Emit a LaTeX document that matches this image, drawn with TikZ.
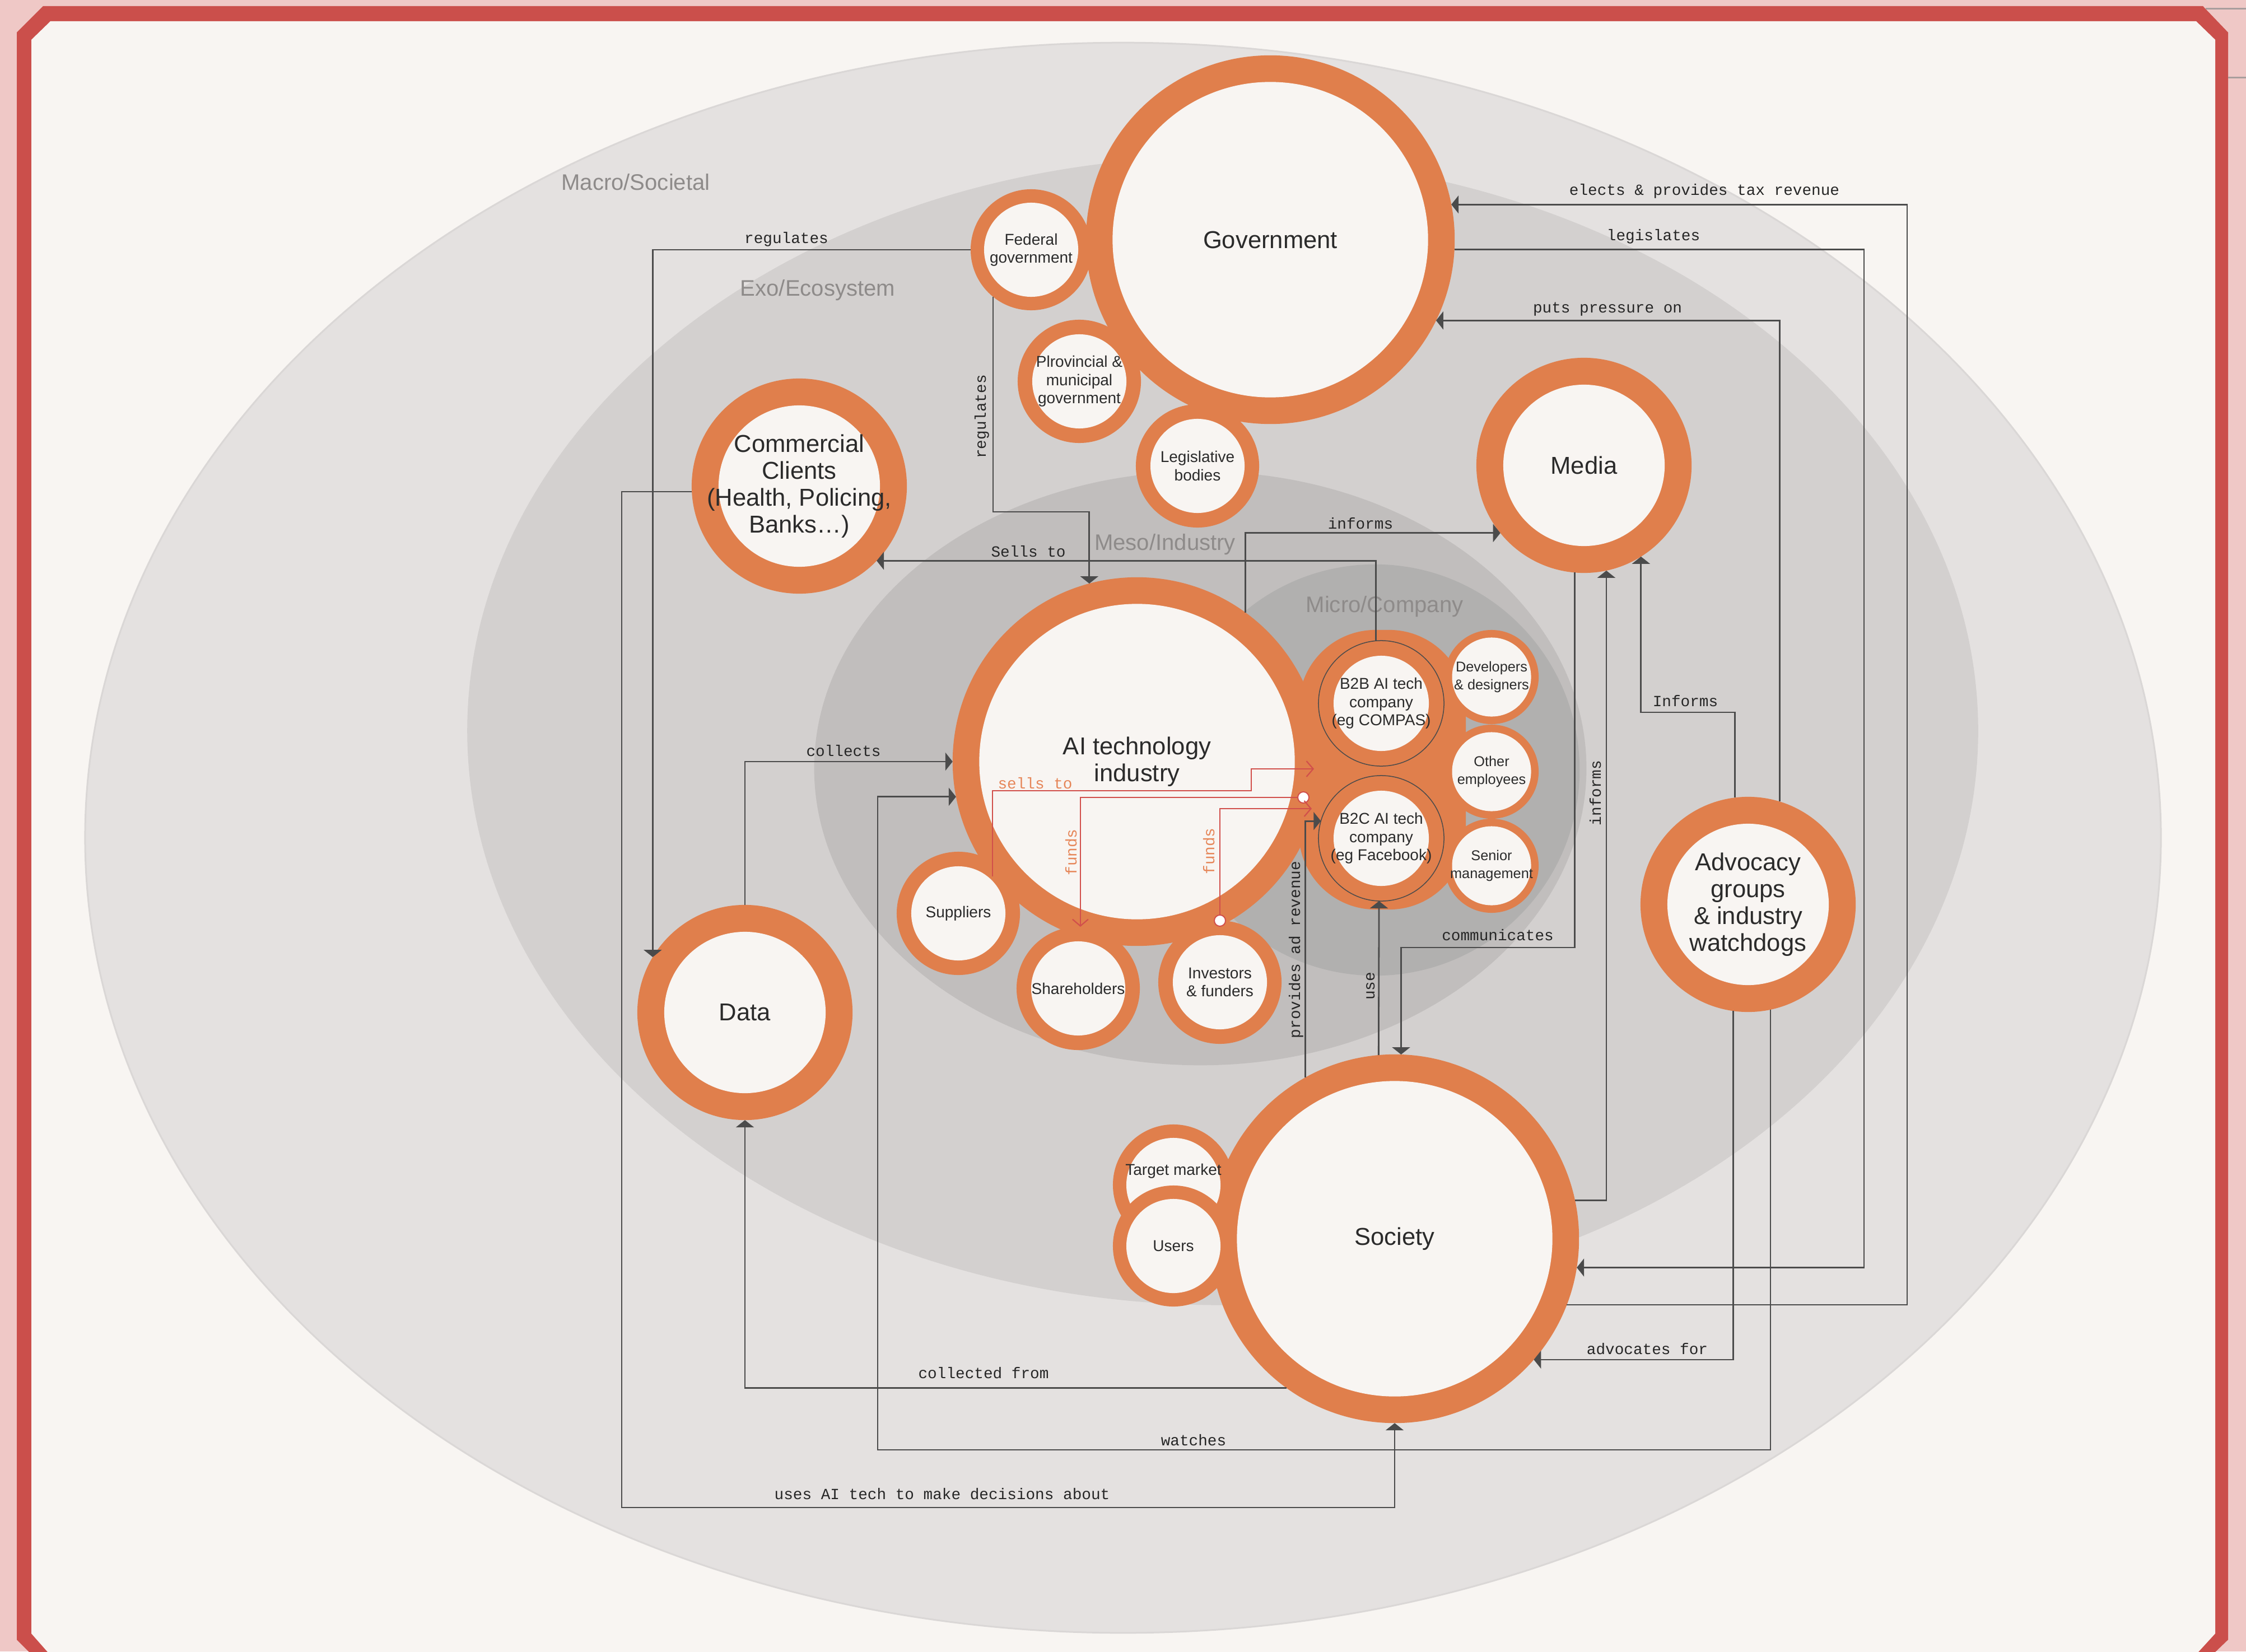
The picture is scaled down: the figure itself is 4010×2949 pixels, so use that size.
\documentclass[tikz,border=0pt]{standalone}
\usepackage{fontspec}
\setmainfont{Liberation Sans}
\newfontfamily\monofam{Liberation Mono}
\usetikzlibrary{arrows.meta}
\definecolor{bgpink}{HTML}{EFC8C6}
\definecolor{framered}{HTML}{CB4F4B}
\definecolor{creamc}{HTML}{F8F5F2}
\definecolor{macroc}{HTML}{E4E1E0}
\definecolor{macroedge}{HTML}{DAD7D6}
\definecolor{exoc}{HTML}{D3D0CF}
\definecolor{mesoc}{HTML}{C1BEBD}
\definecolor{microc}{HTML}{B1B0AF}
\definecolor{ringor}{HTML}{E07F4C}
\definecolor{linegray}{HTML}{4B4B4B}
\definecolor{redline}{HTML}{D14F4B}
\definecolor{redtext}{HTML}{E6875A}
\definecolor{zonetext}{HTML}{8E8B8A}
\definecolor{nodetext}{HTML}{2B2B2B}
\definecolor{artgray}{HTML}{A89E9D}
\newcommand\fntBig{\fontsize{12.4}{13.7}\selectfont}
\newcommand\fntZone{\fontsize{11.4}{13}\selectfont}
\newcommand\fntSmall{\fontsize{7.97}{9.2}\selectfont}
\newcommand\fntTiny{\fontsize{7.2}{9.1}\selectfont}
\newcommand\fntMono{\monofam\fontsize{7.88}{9}\selectfont}
\tikzset{
  ring/.style n args={2}{circle, fill=ringor, draw=none, inner sep=0pt, outer sep=0pt,
     minimum size=#1, text=nodetext, align=center,
     path picture={\fill[creamc] (path picture bounding box.center) circle[radius=#2];}},
  bigring/.style={ring={6.58cm}{2.815cm}, font=\fntBig},
  midring/.style={ring={3.84cm}{1.44cm}, font=\fntBig},
  smallring/.style={ring={2.20cm}{0.84cm}, font=\fntSmall},
  tinyring/.style={ring={1.68cm}{0.705cm}, font=\fntTiny},
  firm/.style={circle, draw=linegray, line width=0.015cm, inner sep=0pt, outer sep=0pt,
     minimum size=2.24cm, text=nodetext, align=center, font=\fntSmall,
     path picture={\fill[creamc] (path picture bounding box.center) circle[radius=0.85cm];}},
  zone/.style={text=zonetext, font=\fntZone, inner sep=0pt},
  conn/.style={draw=linegray, line width=0.028cm, -{Triangle[length=0.13cm, width=0.32cm]}},
  redconn/.style={draw=redline, line width=0.022cm, -{Straight Barb[length=0.12cm, width=0.28cm]}},
  lbl/.style={font=\fntMono, text=black!85, inner sep=0pt, anchor=base},
  redlbl/.style={lbl, text=redtext},
  vlbl/.style={lbl, rotate=90},
  dotnode/.style={circle, fill=white, draw=redline, line width=0.02cm, minimum size=0.2cm, inner sep=0pt, outer sep=0pt},
}
\begin{document}
\begin{tikzpicture}[x=0.01cm, y=-0.01cm]
\useasboundingbox (0,0) rectangle (4010,2949);
\clip (0,0) rectangle (4010,2949);
% background and frame
\fill[bgpink] (0,0) rectangle (4010,2949);
\fill[framered] (77,11) -- (3933,11) -- (3978,58) -- (3978,2928) -- (3928,2976) -- (78,2976) -- (30,2928) -- (30,58) -- cycle;
\fill[creamc] (90,38) -- (3921,38) -- (3955,71) -- (3955,2917) -- (3901,2976) -- (108,2976) -- (56,2917) -- (56,71) -- cycle;
\draw[artgray, line width=0.03cm] (3938,16) -- (4010,16);
\draw[artgray, line width=0.03cm] (3978,139) -- (4010,139);
% zones
\draw[macroedge, line width=0.03cm, fill=macroc] (2005,1496) ellipse [x radius=18.52cm, y radius=14.19cm];
\fill[exoc] (2183,1305) ellipse [x radius=13.48cm, y radius=10.25cm];
\fill[mesoc] (2143,1372) ellipse [x radius=6.89cm, y radius=5.30cm];
\fill[microc] (2455,1375) ellipse [x radius=3.65cm, y radius=3.67cm];
\node[zone] (zmacro) at (1135,325) {Macro/Societal};
\node[zone] (zexo) at (1460,518) {Exo/Ecosystem};
\node[zone] (zmeso) at (2080,972) {Meso/Industry};
\node[zone] (zmicro) at (2472,1083) {Micro/Company};
% company blob
\node[fill=ringor, rounded corners=1.37cm, minimum width=2.98cm, minimum height=4.99cm, inner sep=0pt, outer sep=0pt] (companyblob) at (2468,1374.5) {};
% nodes
\node[bigring] (gov) at (2268,428) {Government};
\node[smallring, minimum size=2.16cm] (fed) at (1841,446) {Federal\\government};
\node[smallring] (prov) at (1927,681) {Plrovincial \&\\municipal\\government};
\node[smallring] (leg) at (2138,832) {Legislative\\bodies};
\node[midring] (comm) at (1427,868) {Commercial\\Clients\\(Health, Policing,\\Banks…)};
\node[midring] (media) at (2828,831) {Media};
\node[midring] (adv) at (3121,1615) {Advocacy\\groups\\\& industry\\watchdogs};
\node[midring] (data) at (1330,1808) {Data};
\node[bigring] (ai) at (2030,1360) {AI technology\\industry};
\node[bigring] (society) at (2490,2212) {Society};
\node[smallring] (supp) at (1711,1631) {Suppliers};
\node[smallring] (share) at (1925,1765) {Shareholders};
\node[smallring] (inv) at (2178,1754) {Investors\\\& funders};
\node[smallring, minimum size=2.16cm] (target) at (2095,2116) {};
\node[font=\fntSmall, text=nodetext, inner sep=0pt] (targettext) at ([yshift=0.25cm]target.center) {Target market};
\node[smallring, minimum size=2.16cm] (users) at (2095,2225) {Users};
\node[tinyring] (dev) at (2663,1209) {Developers\\\& designers};
\node[tinyring] (other) at (2663,1378) {Other\\employees};
\node[tinyring] (senior) at (2663,1546) {Senior\\management};
\node[firm] (b2b) at (2466,1256) {B2B AI tech\\company\\(eg COMPAS)};
\node[firm] (b2c) at (2466,1497) {B2C AI tech\\company\\(eg Facebook)};
% dark connectors
\draw[conn] (fed.west) -| (data.149);
\draw[conn] (fed.231) |- (1900,914) -| (ai.105);
\draw[conn] (b2b.95) |- (comm.316);
\draw[conn] (ai.54) |- (media.219);
\draw[conn] (data.north) |- (ai.west);
\draw[conn] (adv.282) |- (1567,2589) |- (ai.191);
\draw[conn] (adv.262) |- (society.319);
\draw[conn] (society.234) -| (data.south);
\draw[conn] (comm.183) -| (1110,2692) -| (society.south);
\draw[conn] (society.339) -| (3405,1000) |- (gov.11);
\draw[conn] (gov.357) -| (3328,1000) |- (society.351);
\draw[conn] (adv.73) |- (gov.334);
\draw[conn] (adv.97) |- (2931,1272) -| (media.302);
\draw[conn] (society.12) -| (media.282);
\draw[conn] (media.265) |- (2600,1692) -| (society.88);
\draw[conn] (society.95) -- (b2c.268);
\draw[conn] (society.119) |- (b2c.164);
% red connectors
\node[dotnode] (dot1) at (2327,1424) {};
\node[dotnode] (dot2) at (inv.north) {};
\coordinate (sellsend) at (2346,1373);
\coordinate (fundsend) at (2342,1444);
\draw[redconn] ([shift={(61,-66)}]supp.center) |- (2234,1412) |- (sellsend);
\draw[redconn] (dot1.west) -| (share.88);
\draw[redconn] (dot2.north) |- (fundsend);
% labels
\node[lbl] (lreg1) at (1404,435) {regulates};
\node[vlbl] (lreg2) at (1760,744) {regulates};
\node[lbl] (lsells) at (1836,994) {Sells to};
\node[lbl] (linf1) at (2429,944) {informs};
\node[lbl] (lcoll) at (1506,1350) {collects};
\node[lbl] (lwatch) at (2131,2581) {watches};
\node[lbl] (ladv) at (2941,2418) {advocates for};
\node[lbl] (lcollf) at (1756,2461) {collected from};
\node[lbl] (luses) at (1682,2677) {uses AI tech to make decisions about};
\node[lbl] (lelect) at (3043,349) {elects \& provides tax revenue};
\node[lbl] (llegis) at (2952,430) {legislates};
\node[lbl] (lpress) at (2870,559) {puts pressure on};
\node[lbl] (linf2) at (3009,1261) {Informs};
\node[vlbl] (linf3) at (2858,1416) {informs};
\node[lbl] (lcomm) at (2674,1679) {communicates};
\node[vlbl] (luse) at (2454,1761) {use};
\node[vlbl] (lprov) at (2321,1696) {provides ad revenue};
\node[redlbl] (lsellsto) at (1848,1408) {sells to};
\node[redlbl, rotate=90] (lfunds1) at (1922,1522) {funds};
\node[redlbl, rotate=90] (lfunds2) at (2168,1520) {funds};
\end{tikzpicture}
\end{document}
